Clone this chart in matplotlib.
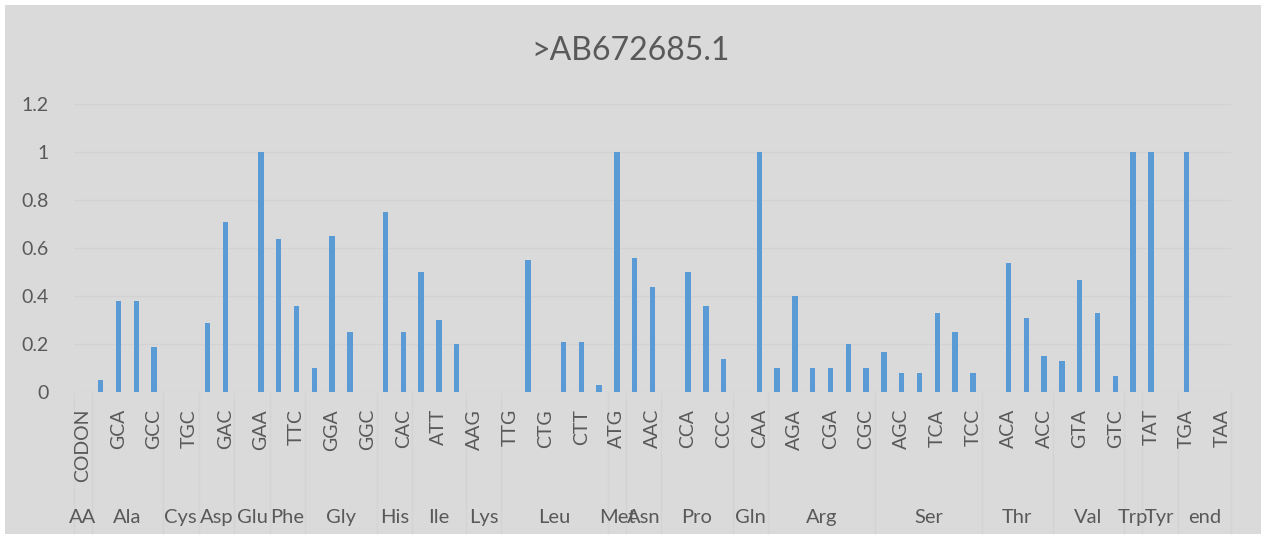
import numpy as np
import matplotlib
matplotlib.use('Agg')
import matplotlib.pyplot as plt
from matplotlib.patches import Rectangle
from matplotlib.transforms import blended_transform_factory

plt.rcParams['font.family'] = ['Lato', 'DejaVu Sans']

# ---- data ----
title = '>AB672685.1'

aa_names = ['AA', 'Ala', 'Cys', 'Asp', 'Glu', 'Phe', 'Gly', 'His', 'Ile', 'Lys', 'Leu',
            'Met', 'Asn', 'Pro', 'Gln', 'Arg', 'Ser', 'Thr', 'Val', 'Trp', 'Tyr', 'end']
aa_sizes = [1, 4, 2, 2, 2, 2, 4, 2, 3, 2, 6, 1, 2, 4, 2, 6, 6, 4, 4, 1, 2, 3]

codons = ['CODON',
          'GCT', 'GCA', 'GCG', 'GCC',
          'TGT', 'TGC',
          'GAT', 'GAC',
          'GAG', 'GAA',
          'TTT', 'TTC',
          'GGT', 'GGA', 'GGG', 'GGC',
          'CAT', 'CAC',
          'ATC', 'ATT', 'ATA',
          'AAG', 'AAA',
          'TTG', 'TTA', 'CTG', 'CTA', 'CTT', 'CTC',
          'ATG',
          'AAT', 'AAC',
          'CCT', 'CCA', 'CCG', 'CCC',
          'CAG', 'CAA',
          'AGG', 'AGA', 'CGG', 'CGA', 'CGT', 'CGC',
          'AGT', 'AGC', 'TCG', 'TCA', 'TCT', 'TCC',
          'ACT', 'ACA', 'ACG', 'ACC',
          'GTT', 'GTA', 'GTG', 'GTC',
          'TGG',
          'TAT', 'TAC',
          'TGA', 'TAG', 'TAA']

values = [0,
          0.05, 0.38, 0.38, 0.19,
          0, 0,
          0.29, 0.71,
          0, 1.0,
          0.64, 0.36,
          0.10, 0.65, 0.25, 0,
          0.75, 0.25,
          0.50, 0.30, 0.20,
          0, 0,
          0, 0.55, 0, 0.21, 0.21, 0.03,
          1.0,
          0.56, 0.44,
          0, 0.50, 0.36, 0.14,
          0, 1.0,
          0.10, 0.40, 0.10, 0.10, 0.20, 0.10,
          0.17, 0.08, 0.08, 0.33, 0.25, 0.08,
          0, 0.54, 0.31, 0.15,
          0.13, 0.47, 0.33, 0.07,
          1.0,
          1.0, 0,
          1.0, 0, 0]

y_ticks = [0, 0.2, 0.4, 0.6, 0.8, 1.0, 1.2]
y_tick_labels = ['0', '0.2', '0.4', '0.6', '0.8', '1', '1.2']

# ---- style ----
BG = '#dadada'
TXT = '#595959'
BAR = '#5b9bd5'
GRID = '#d2d2d2'
SEP = '#d4d4d4'
W, H = 1261, 543

fig = plt.figure(figsize=(W / 100, H / 100), dpi=100)
fig.patch.set_facecolor('white')
fig.patches.append(Rectangle((5 / W, 9 / H), 1256 / W, 529 / H,
                             transform=fig.transFigure, facecolor=BG,
                             edgecolor='none', zorder=-10))

ax = fig.add_axes([74 / W, 1 - 392.3 / H, 1157 / W, 288 / H])
ax.set_facecolor(BG)

x = np.arange(len(codons))
ax.bar(x, values, width=0.31, color=BAR, zorder=3)

ax.set_xlim(-0.5, len(codons) - 0.5)
ax.set_ylim(0, 1.2)
ax.set_yticks(y_ticks)
ax.set_yticklabels(y_tick_labels)
ax.tick_params(axis='y', length=0, pad=18, labelsize=14, labelcolor=TXT)
ax.set_xticks([])
for sp in ax.spines.values():
    sp.set_visible(False)
ax.grid(axis='y', color=GRID, linewidth=1, zorder=1)

# codon labels (every other one shown)
trans = blended_transform_factory(ax.transData, fig.transFigure)
for i, c in enumerate(codons):
    if i % 2 == 0:
        ax.text(i, 1 - 409 / H, c, rotation=90, ha='center', va='top',
                fontsize=14, color=TXT, transform=trans, clip_on=False)

# amino acid group labels and separators
edges = np.concatenate([[0], np.cumsum(aa_sizes)]) - 0.5
for name, lo, hi in zip(aa_names, edges[:-1], edges[1:]):
    ax.text((lo + hi) / 2, 20 / H, name, ha='center', va='baseline',
            fontsize=14.5, color=TXT, transform=trans, clip_on=False)
for e in edges:
    ax.plot([e, e], [1 - 393 / H, 1 - 533 / H], color=SEP, linewidth=1,
            transform=trans, clip_on=False)

fig.text(0.5, 1 - 51 / H, title, ha='center', va='center', fontsize=23, color=TXT)

fig.savefig('out.png', dpi=100, facecolor=fig.get_facecolor())
